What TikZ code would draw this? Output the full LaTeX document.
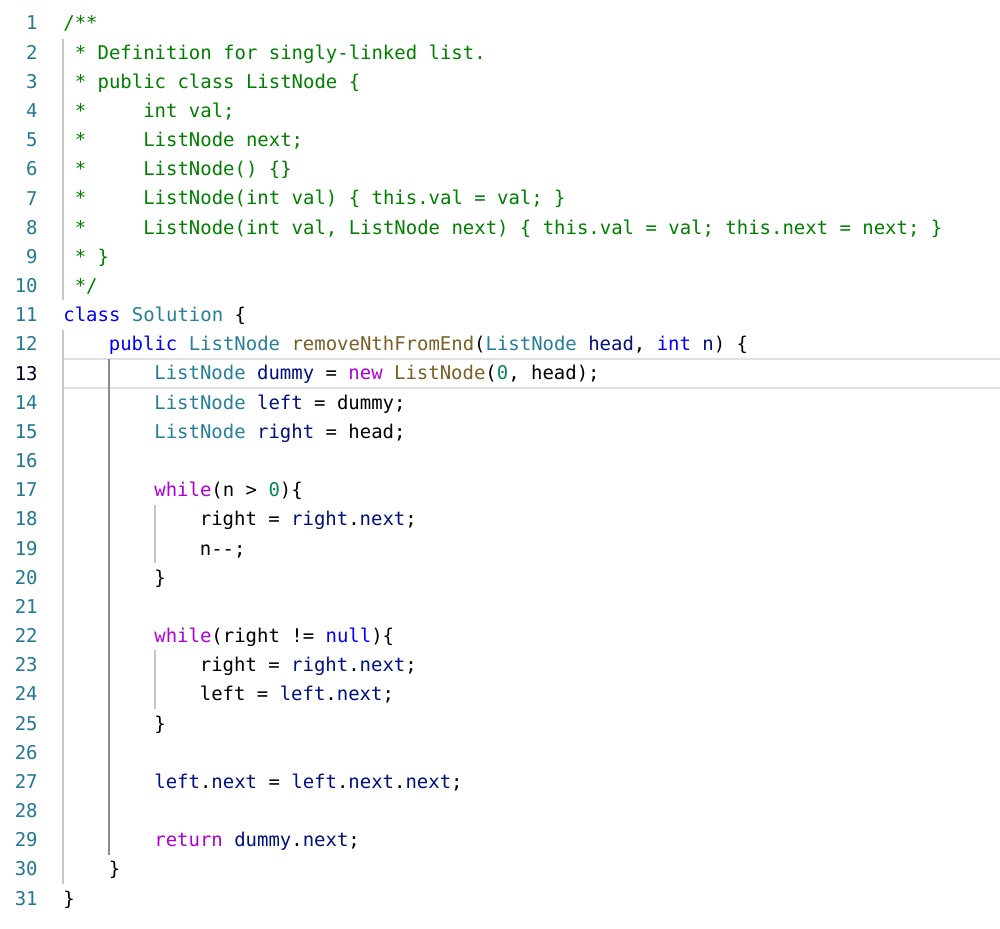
\documentclass[tikz,border=0pt]{standalone}
\usepackage{fontspec}
\setmonofont{DejaVu Sans Mono}
\usetikzlibrary{positioning}
\definecolor{cmt}{HTML}{008000}
\definecolor{kwd}{HTML}{0000FF}
\definecolor{typ}{HTML}{267F99}
\definecolor{fnc}{HTML}{795E26}
\definecolor{ctl}{HTML}{AF00DB}
\definecolor{var}{HTML}{001080}
\definecolor{num}{HTML}{098658}
\definecolor{lno}{HTML}{237893}
\newcommand{\kw}[1]{\textcolor{kwd}{#1}}
\newcommand{\ty}[1]{\textcolor{typ}{#1}}
\newcommand{\fn}[1]{\textcolor{fnc}{#1}}
\newcommand{\ct}[1]{\textcolor{ctl}{#1}}
\newcommand{\vr}[1]{\textcolor{var}{#1}}
\newcommand{\nm}[1]{\textcolor{num}{#1}}
\newcommand{\gap}[1]{\hspace*{#1\dimexpr 5.71pt\relax}}
\tikzset{
  code/.style={anchor=base west, inner sep=0pt, font=\ttfamily\fontsize{9.48}{11}\selectfont, text=black},
  lnum/.style={anchor=base east, inner sep=0pt, font=\ttfamily\fontsize{9.48}{11}\selectfont, text=lno},
  guide/.style={draw=black!22, line width=0.6pt},
  activeguide/.style={draw=black!45, line width=0.6pt}
}
\begin{document}
\begin{tikzpicture}[x=0.5pt, y=-0.5pt]
  \useasboundingbox[fill=white] (0,0) rectangle (1000,929);
  % current line
  \draw[black!12, line width=1pt] (63,359) rectangle (1003,388);
  % line numbers
  \foreach \i in {1,...,31}{
    \pgfmathsetmacro{\yy}{30+(\i-1)*29.17}
    \ifnum\i=13
      \node[lnum, text=black!85!blue] (n\i) at (38,\yy) {\i};
    \else
      \node[lnum] (n\i) at (38,\yy) {\i};
    \fi
  }
  % indent guides
  \draw[guide] (63,39) -- (63,300);
  \draw[guide] (63,330) -- (63,884);
  \draw[activeguide] (109,359) -- (109,855);
  \draw[guide] (155,505) -- (155,563);
  \draw[guide] (155,650) -- (155,709);
  % code
  \node[code, text=cmt] (l1) at (63,30) {/**};
  \node[code, text=cmt] (l2) at (63,59.17) {~* Definition for singly-linked list.};
  \node[code, text=cmt] (l3) at (63,88.34) {~* public class ListNode \{};
  \node[code, text=cmt] (l4) at (63,117.5) {~*\gap{5}int val;};
  \node[code, text=cmt] (l5) at (63,146.7) {~*\gap{5}ListNode next;};
  \node[code, text=cmt] (l6) at (63,175.9) {~*\gap{5}ListNode() \{\}};
  \node[code, text=cmt] (l7) at (63,205) {~*\gap{5}ListNode(int val) \{ this.val = val; \}};
  \node[code, text=cmt] (l8) at (63,234.2) {~*\gap{5}ListNode(int val, ListNode next) \{ this.val = val; this.next = next; \}};
  \node[code, text=cmt] (l9) at (63,263.4) {~* \}};
  \node[code, text=cmt] (l10) at (63,292.5) {~*/};
  \node[code] (l11) at (63,321.7) {\kw{class} \ty{Solution} \{};
  \node[code] (l12) at (108.5,350.9) {\kw{public} \ty{ListNode} \fn{removeNthFromEnd}(\ty{ListNode} \vr{head}, \kw{int} \vr{n}) \{};
  \node[code] (l13) at (154,380) {\ty{ListNode} \vr{dummy} = \ct{new} \fn{ListNode}(\nm{0}, head);};
  \node[code] (l14) at (154,409.2) {\ty{ListNode} \vr{left} = dummy;};
  \node[code] (l15) at (154,438.4) {\ty{ListNode} \vr{right} = head;};
  \node[code] (l17) at (154,496.7) {\ct{while}(n > \nm{0})\{};
  \node[code] (l18) at (199.5,525.9) {right = \vr{right}.\vr{next};};
  \node[code] (l19) at (199.5,555.1) {n--;};
  \node[code] (l20) at (154,584.2) {\}};
  \node[code] (l22) at (154,642.6) {\ct{while}(right != \kw{null})\{};
  \node[code] (l23) at (199.5,671.7) {right = \vr{right}.\vr{next};};
  \node[code] (l24) at (199.5,700.9) {left = \vr{left}.\vr{next};};
  \node[code] (l25) at (154,730.1) {\}};
  \node[code] (l27) at (154,788.4) {\vr{left}.\vr{next} = \vr{left}.\vr{next}.\vr{next};};
  \node[code] (l29) at (154,846.7) {\ct{return} \vr{dummy}.\vr{next};};
  \node[code] (l30) at (108.5,875.9) {\}};
  \node[code] (l31) at (63,905) {\}};
\end{tikzpicture}
\end{document}
